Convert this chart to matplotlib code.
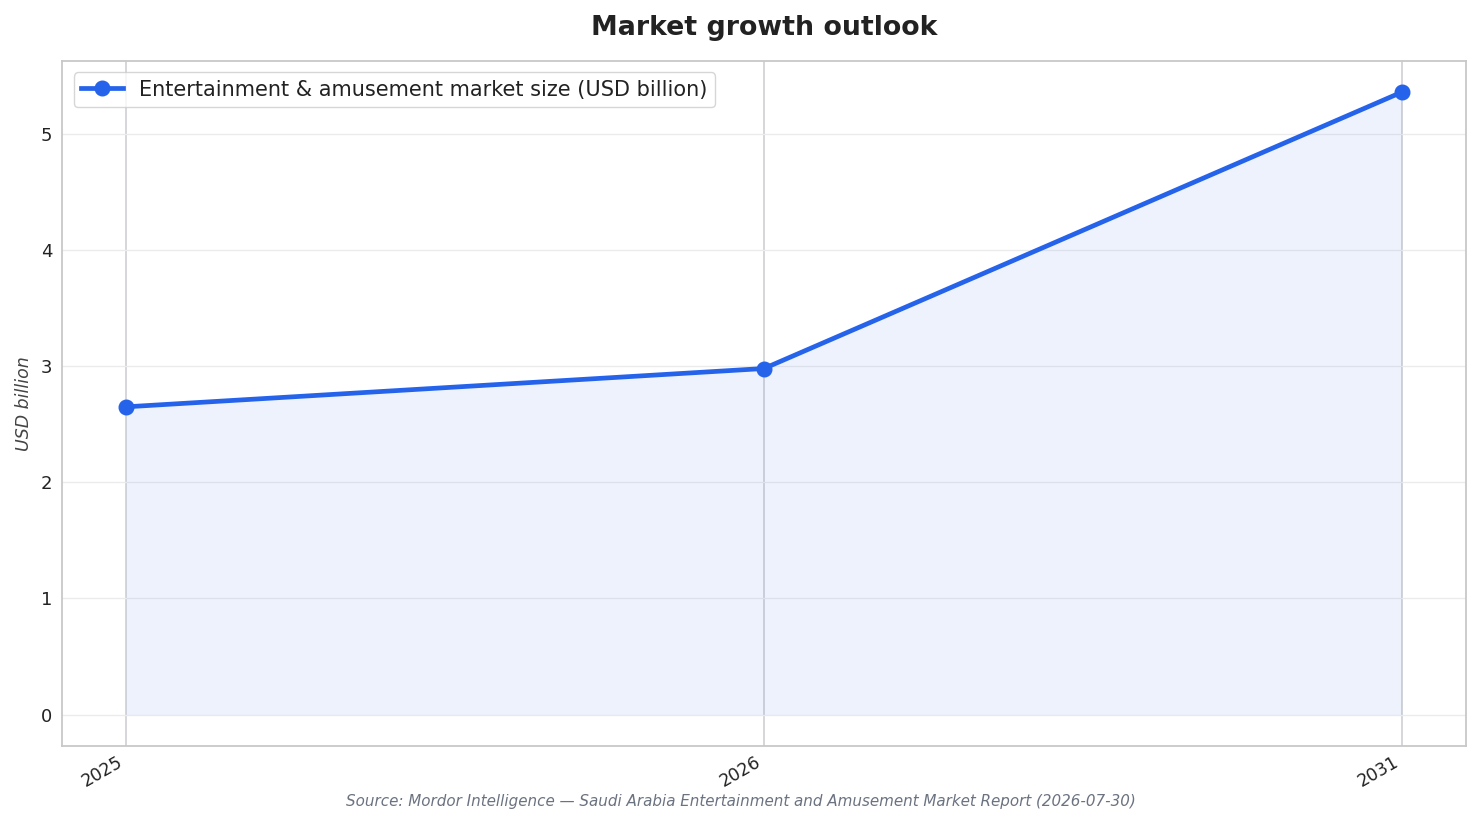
import numpy as np
import matplotlib.pyplot as plt

# Market size values
years = ["2025", "2026", "2031"]
market_size = [2.65, 2.98, 5.36]

x = np.arange(len(years))
blue = "#2563EB"

fig, ax = plt.subplots(figsize=(14.82, 8.24), dpi=100)
fig.subplots_adjust(left=0.042, right=0.989, top=0.926, bottom=0.095)

ax.fill_between(x, market_size, 0, color=blue, alpha=0.08, linewidth=0)
ax.plot(x, market_size, "-o", color=blue, linewidth=3.4, markersize=10.5,
        label="Entertainment & amusement market size (USD billion)", zorder=3)

ax.set_xticks(x)
ax.set_xticklabels(years, rotation=30, ha="right", fontsize=12.5, color="#222222")
ax.tick_params(axis="y", labelsize=13, length=0, pad=7, labelcolor="#222222")
ax.tick_params(axis="x", length=0, pad=5)

ax.grid(axis="x", color="#cfd0d4", linewidth=1.2)
ax.grid(axis="y", color="#ebebeb", linewidth=1)
ax.set_axisbelow(True)
for s in ax.spines.values():
    s.set_color("#c8c8c8")
    s.set_linewidth(1.3)

ax.set_ylabel("USD billion", fontsize=12.5, style="italic", color="#444444", labelpad=6)
ax.set_title("Market growth outlook", fontsize=19.3, fontweight="bold",
             color="#222222", pad=19)

leg = ax.legend(loc="upper left", fontsize=15, frameon=True, edgecolor="#cccccc",
                fancybox=True, borderpad=0.35, handlelength=2, borderaxespad=0.55)
for t in leg.get_texts():
    t.set_color("#222222")

fig.text(0.5, 0.022,
         "Source: Mordor Intelligence \u2014 Saudi Arabia Entertainment and Amusement Market Report (2026-07-30)",
         ha="center", fontsize=10.9, style="italic", color="#6b7280")

fig.savefig("out.png", dpi=100)
